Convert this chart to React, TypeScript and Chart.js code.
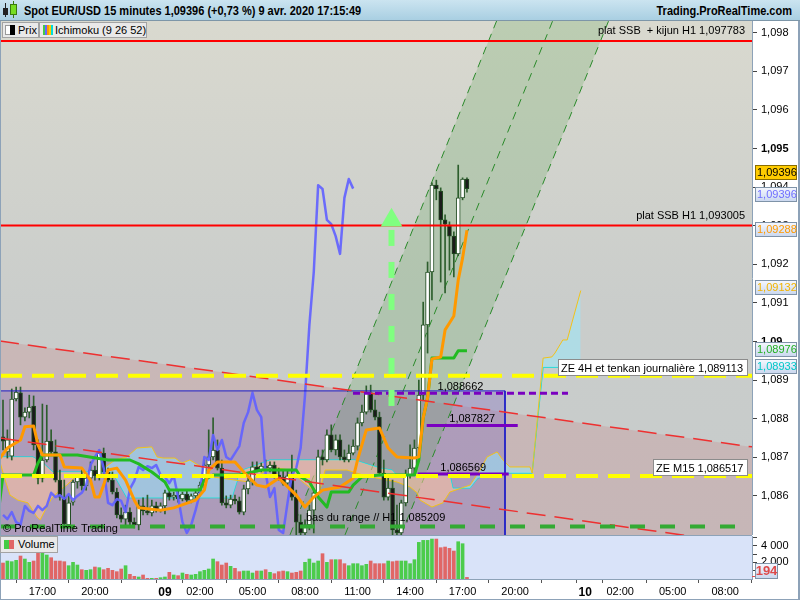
import React, { useEffect, useRef } from 'react';
import { Chart, registerables } from 'chart.js';

Chart.register(...registerables);

const FONT = '"Liberation Sans", Arial, Helvetica, sans-serif';

// ---------- EUR/USD 15 min candles, 8 Apr 14:45 -> 9 Apr 17:15 (bar index 0..106) ----------
const opens = [
  1.08753, 1.08714, 1.08703, 1.08851, 1.08867, 1.08804, 1.08817, 1.08833, 1.08732, 1.08646,
  1.08693, 1.08742, 1.08714, 1.08641, 1.08597, 1.08525, 1.08584, 1.08636, 1.08649, 1.08626,
  1.08646, 1.08667, 1.08652, 1.08711, 1.08662, 1.08641, 1.0861, 1.08551, 1.0854, 1.08558,
  1.08532, 1.08525, 1.08574, 1.08561, 1.08556, 1.08574, 1.08563, 1.08574, 1.08608, 1.08597,
  1.08602, 1.08592, 1.08605, 1.08589, 1.086, 1.08608, 1.08628, 1.0868, 1.08701, 1.08719,
  1.08672, 1.08582, 1.08576, 1.08592, 1.08587, 1.08558, 1.08618, 1.08639, 1.08675, 1.08667,
  1.08677, 1.08672, 1.0868, 1.08654, 1.08649, 1.08633, 1.08652, 1.08597, 1.08532, 1.08504,
  1.08525, 1.08563, 1.08608, 1.08701, 1.08693, 1.08758, 1.08719, 1.08745, 1.08701, 1.08693,
  1.08711, 1.08729, 1.08789, 1.08817, 1.08867, 1.08823, 1.08804, 1.08659, 1.08597, 1.0862,
  1.08512, 1.08504, 1.08582, 1.08654, 1.08672, 1.08724, 1.08861, 1.09043, 1.0918, 1.09405,
  1.0939, 1.09315, 1.09299, 1.09273, 1.09227, 1.09372, 1.09421,
];
const highs = [
  1.08848, 1.08771, 1.08877, 1.08882, 1.08882, 1.08828, 1.08861, 1.08859, 1.08745, 1.08838,
  1.08835, 1.08771, 1.08745, 1.08667, 1.08641, 1.08602, 1.08641, 1.08654, 1.08667, 1.08657,
  1.08688, 1.08677, 1.08719, 1.08724, 1.08672, 1.08662, 1.0862, 1.08569, 1.08576, 1.08569,
  1.08543, 1.08589, 1.08595, 1.08602, 1.08589, 1.08584, 1.08582, 1.08615, 1.08618, 1.0861,
  1.08615, 1.0861, 1.08612, 1.08605, 1.08615, 1.08636, 1.08693, 1.08771, 1.08802, 1.08745,
  1.08693, 1.086, 1.08602, 1.08602, 1.08597, 1.08628, 1.08646, 1.08688, 1.08688, 1.08685,
  1.08693, 1.08688, 1.08688, 1.08672, 1.08667, 1.08667, 1.08706, 1.08615, 1.08551, 1.08538,
  1.08576, 1.08615, 1.08719, 1.08719, 1.08771, 1.08784, 1.08758, 1.08758, 1.08719, 1.08732,
  1.08745, 1.08802, 1.08835, 1.08885, 1.08887, 1.08848, 1.08817, 1.08693, 1.08654, 1.08641,
  1.08576, 1.08589, 1.08667, 1.08732, 1.08745, 1.089, 1.09102, 1.09206, 1.09411, 1.09418,
  1.09398, 1.09328, 1.0931, 1.09284, 1.09457, 1.09424, 1.09424,
];
const lows = [
  1.08719, 1.08698, 1.08693, 1.08846, 1.08784, 1.08794, 1.08802, 1.08719, 1.08631, 1.08636,
  1.08688, 1.08706, 1.08636, 1.08589, 1.08519, 1.08517, 1.08576, 1.0862, 1.08615, 1.08615,
  1.08636, 1.08641, 1.08641, 1.08654, 1.08636, 1.08605, 1.08543, 1.08532, 1.08522, 1.08525,
  1.08517, 1.08512, 1.08551, 1.08551, 1.08548, 1.08558, 1.08558, 1.08553, 1.08589, 1.08589,
  1.08584, 1.08587, 1.08584, 1.08582, 1.08589, 1.086, 1.0862, 1.08672, 1.08693, 1.08667,
  1.08576, 1.08569, 1.08569, 1.08579, 1.08553, 1.08551, 1.08605, 1.08628, 1.08662, 1.08662,
  1.08667, 1.08662, 1.08646, 1.08641, 1.08628, 1.08626, 1.08589, 1.08492, 1.08492, 1.08499,
  1.08512, 1.08504, 1.086, 1.0868, 1.08688, 1.08714, 1.08706, 1.08693, 1.08688, 1.08688,
  1.08706, 1.08719, 1.08781, 1.08812, 1.08817, 1.08797, 1.08652, 1.08589, 1.08589, 1.08492,
  1.08492, 1.08495, 1.08574, 1.08646, 1.08654, 1.08719, 1.08848, 1.0897, 1.09108, 1.09367,
  1.09154, 1.09126, 1.09185, 1.09167, 1.09222, 1.09367, 1.09387,
];
const closes = [
  1.08742, 1.08745, 1.08851, 1.08869, 1.08804, 1.08817, 1.0883, 1.08732, 1.08646, 1.08693,
  1.08742, 1.08714, 1.08641, 1.08597, 1.08527, 1.08582, 1.08636, 1.08649, 1.08626, 1.08646,
  1.08667, 1.08652, 1.08711, 1.08662, 1.08641, 1.0861, 1.08551, 1.0854, 1.08558, 1.08532,
  1.08525, 1.08574, 1.08561, 1.08556, 1.08574, 1.08563, 1.08574, 1.08608, 1.08597, 1.08602,
  1.08592, 1.08605, 1.08589, 1.086, 1.08608, 1.08628, 1.0868, 1.08701, 1.08719, 1.08672,
  1.08582, 1.08576, 1.08592, 1.08587, 1.08558, 1.08618, 1.08639, 1.08675, 1.08667, 1.08677,
  1.08672, 1.0868, 1.08654, 1.08649, 1.08633, 1.08652, 1.08597, 1.08532, 1.08504, 1.08525,
  1.08563, 1.08608, 1.08701, 1.08693, 1.08758, 1.08719, 1.08745, 1.08701, 1.08693, 1.08711,
  1.08729, 1.08789, 1.08817, 1.08867, 1.08823, 1.08804, 1.08659, 1.08597, 1.0862, 1.08512,
  1.08504, 1.08582, 1.08654, 1.08672, 1.08724, 1.08861, 1.09043, 1.0918, 1.09405, 1.09395,
  1.09315, 1.09304, 1.09273, 1.09227, 1.09372, 1.09421, 1.09396,
];
const volumes = [
  1920, 2160, 2080, 2240, 2760, 2400, 2000, 2160, 3200, 3320,
  2880, 2560, 2160, 2160, 2080, 1600, 2000, 1680, 1120, 1040,
  1120, 1440, 1360, 1120, 1280, 1040, 880, 1200, 1600, 560,
  320, 240, 480, 80, 80, 80, 160, 240, 800, 480,
  400, 720, 560, 480, 560, 880, 1040, 1200, 2400, 2080,
  1680, 1920, 1520, 1280, 880, 960, 960, 720, 960, 960,
  1120, 800, 640, 880, 960, 880, 720, 800, 960, 2000,
  2400, 1920, 2160, 3040, 2000, 2320, 2320, 2320, 1840, 1600,
  1840, 1840, 1600, 1760, 2160, 1840, 1840, 1840, 2160, 2080,
  2160, 2160, 2160, 1840, 2320, 4400, 4640, 4640, 4800, 4800,
  3760, 3840, 3680, 3360, 4480, 4240, 194,
];

// ---------- Ichimoku (9 26 52): bar index / price ----------
const tenkanX = [-1, 1, 4, 5, 7, 8, 9, 13, 14, 18, 20, 21, 22, 23, 24, 26, 28, 30, 31, 36, 39, 44, 46, 47, 49, 53, 55, 58, 60, 63, 67, 69, 71, 73, 77, 80, 81, 83, 86, 88, 90, 94, 95, 96, 97, 98, 100, 101, 102, 103, 104, 105, 106];
const tenkanY = [1.08693, 1.08724, 1.08745, 1.08779, 1.08781, 1.08732, 1.08706, 1.08706, 1.08675, 1.08672, 1.08641, 1.08597, 1.08597, 1.08628, 1.08667, 1.08672, 1.08641, 1.08589, 1.08569, 1.08563, 1.08569, 1.08589, 1.08615, 1.08667, 1.08688, 1.08688, 1.08662, 1.08628, 1.08623, 1.08646, 1.08602, 1.08571, 1.08597, 1.08615, 1.08623, 1.08646, 1.08693, 1.08771, 1.08776, 1.08724, 1.08701, 1.08698, 1.08701, 1.08802, 1.08854, 1.08955, 1.0896, 1.0903, 1.09048, 1.09066, 1.09159, 1.09216, 1.09288];
const kijunX = [-1, 0, 7, 8, 9, 17, 24, 29, 31, 34, 37, 38, 45, 46, 48, 54, 59, 67, 68, 70, 72, 74, 75, 79, 80, 82, 86, 94, 95, 96, 97, 98, 103, 104, 106];
const kijunY = [1.08563, 1.08654, 1.08654, 1.08685, 1.08706, 1.08706, 1.08693, 1.08693, 1.08683, 1.08662, 1.08636, 1.08615, 1.08615, 1.08641, 1.08654, 1.08654, 1.08667, 1.08667, 1.08649, 1.08636, 1.08597, 1.08571, 1.0861, 1.0861, 1.08628, 1.08649, 1.08654, 1.08654, 1.08693, 1.08802, 1.08854, 1.08957, 1.08957, 1.08976, 1.08976];
const ssaX = [-0.7, 0.5, 1.6, 3.4, 5.7, 7.8, 8.5, 10, 11.2, 13, 14.6, 16.9, 21.5, 25.6, 28.3, 30.6, 34, 35.2, 36.6, 39.3, 40.9, 42.7, 45, 46.6, 48, 53, 56.4, 61, 65.6, 68.5, 71.7, 72.4, 73.6, 78.6, 82.3, 85.5, 90, 93, 94.6, 95.3, 98, 100.5, 102.1, 106.7, 109, 110.6, 112.9, 114.2, 115.8, 120.4, 120.9, 123.4, 125.4, 126.1, 127.9, 128.9, 132];
const ssaY = [1.08688, 1.08641, 1.08602, 1.08589, 1.08582, 1.08545, 1.08538, 1.08571, 1.08595, 1.08615, 1.08628, 1.08654, 1.08659, 1.08693, 1.08701, 1.08724, 1.08727, 1.08701, 1.08698, 1.08698, 1.08685, 1.08693, 1.08677, 1.08665, 1.08649, 1.08641, 1.08636, 1.08675, 1.08667, 1.08636, 1.08608, 1.08615, 1.08667, 1.08667, 1.08654, 1.08646, 1.08636, 1.08623, 1.08608, 1.08589, 1.08571, 1.08582, 1.0861, 1.08628, 1.08667, 1.08701, 1.08714, 1.08693, 1.08675, 1.08675, 1.08659, 1.08957, 1.0896, 1.0897, 1.09004, 1.09004, 1.09132];
const ssbX = [-0.7, 6.85, 8.9, 11.4, 24.5, 25.6, 28.3, 52.3, 53.7, 54.8, 61, 80.4, 86.1, 88.9, 90, 102.1, 102.8, 106.7, 108.5, 113.6, 120.9, 123.4, 132];
const ssbY = [1.08701, 1.08701, 1.08688, 1.08662, 1.08662, 1.08649, 1.08595, 1.08595, 1.08646, 1.08667, 1.08693, 1.08693, 1.08672, 1.08667, 1.08654, 1.08654, 1.0862, 1.0862, 1.08646, 1.08659, 1.08659, 1.08933, 1.08933];

// ---------- drawn objects ----------
const redLevels = [1.097783, 1.093005];
const redLevelLabels = ['plat SSB  + kijun H1 1,097783', 'plat SSB H1 1,093005'];
const yellowLevels = [1.089113, 1.086517];
const yellowLevelLabels = ['ZE 4H et tenkan journalière 1,089113', 'ZE M15 1,086517'];
const rangeLow = 1.085209;
const rangeLowLabel = 'bas du range // H1 1,085209';
const rangeLowEnd = 168.4;
const rangeLabelBar = 69.2;
const purpleLevels = [1.088662, 1.087827, 1.086569];
const purpleFrom = [79.96, 96.8, 94.75];
const purpleTo = [129.08, 117.6, 115.54];
const purpleDashed = [true, false, false];
const redTrendX = [-0.685, 171.12];
const redUpperY = [1.09001, 1.08727];
const redLowerY = [1.0875, 1.08473];
const rangeBoxTop = 1.08872;
const rangeBoxEnd = 114.69;
const channelBottomX = [65.57, 78.14, 90.93];
const channelTopX = [112.86, 125.66, 138.45];
const channelBottomY = 1.08499;
const channelTopY = 1.09833;
const arrowBar = 88.76;
const arrowFrom = 1.0883;
const arrowTo = 1.09289;
const arrowHead = 1.09314;

// ---------- axes ----------
const X_MIN = -0.685;
const X_MAX = 171.12;
const Y_MIN = 1.084987;
const Y_MAX = 1.098303;
const V_MAX = 5165;
const priceTicks = [1.086, 1.087, 1.088, 1.089, 1.09, 1.091, 1.092, 1.093, 1.094, 1.095, 1.096, 1.097, 1.098];
const priceTickLabels = ['1,086', '1,087', '1,088', '1,089', '1,09', '1,091', '1,092', '1,093', '1,094', '1,095', '1,096', '1,097', '1,098'];
const boldPriceLabels = ['1,09', '1,095'];
const xTicks = [9, 21, 33, 37, 45, 57, 69, 81, 93, 105, 117, 129, 133, 141, 153, 165];
const xTickLabels = ['17:00', '20:00', '', '09', '02:00', '05:00', '08:00', '11:00', '14:00', '17:00', '20:00', '', '10', '02:00', '05:00', '08:00'];
const dayLabels = ['09', '10'];
const volTicks = [1000, 2000, 3000, 4000, 5000];
const volTickLabels = ['', '2 000', '', '4 000', ''];

// right-axis value tags
const tagValues = [1.09396, 1.09396, 1.09288, 1.09132, 1.08976, 1.08933];
const tagColors = ['#000000', '#6f6fff', '#ff9900', '#f2b400', '#22b022', '#00c8c8'];
const tagSolid = ['#ffcc00', '', '', '', '', ''];
const tagShift = [-16, 6, -1, -3, -1, -1];
const lastVolume = 194;

const fmt = (v: number, d: number) => v.toFixed(d).replace('.', ',');

function mainConfig(): any {
  const idx = opens.map((_, i) => i);
  const up = idx.map((i) => closes[i] >= opens[i]);
  const P = (x: number, y: number) => ({ x, y });
  const zip = (xs: number[], ys: number[]) => xs.map((x, k) => P(x, ys[k]));
  const line = (data: any[], color: string, width: number, dash: number[], order: number, extra: any = {}) => ({
    type: 'line', data, borderColor: color, borderWidth: width, borderDash: dash,
    pointRadius: 0, fill: false, order, borderJoinStyle: 'round', ...extra,
  });
  const ds: any[] = [];
  // background regions
  ds.push(line(zip(redTrendX, redUpperY), 'transparent', 1, [], 20, { fill: 'start', backgroundColor: 'rgba(200,118,120,0.24)' }));
  ds.push(line([P(X_MIN, rangeBoxTop), P(rangeBoxEnd, rangeBoxTop)], 'transparent', 1, [], 19, { fill: 'start', backgroundColor: 'rgba(128,108,190,0.36)' }));
  ds.push(line([P(channelBottomX[0], channelBottomY), P(channelTopX[0], channelTopY), P(channelTopX[2], channelTopY), P(channelBottomX[2], channelBottomY)],
    'transparent', 1, [], 18, { fill: 'shape', backgroundColor: 'rgba(105,170,95,0.26)' }));
  for (let k = 0; k < 3; k++) {
    ds.push(line([P(channelBottomX[k], channelBottomY), P(channelTopX[k], channelTopY)], '#2a8a2a', 1, [8, 6], 17));
  }
  // Kumo
  const ssaIndex = ds.length;
  ds.push(line(zip(ssaX, ssaY), '#f2c21a', 1, [], 16, {
    fill: { target: ssaIndex + 1, above: 'rgba(150,235,255,0.5)', below: 'rgba(255,196,160,0.55)' },
  }));
  ds.push(line(zip(ssbX, ssbY), '#00e0e0', 1, [], 16));
  // candles
  ds.push({ type: 'bar', data: idx.map((i) => ({ x: i, y: [lows[i], highs[i]] })), backgroundColor: '#2d5e2d', barThickness: 1, grouped: false, order: 12 });
  ds.push({ type: 'bar', data: idx.map((i) => ({ x: i, y: [opens[i], closes[i]] })), backgroundColor: idx.map((i) => (up[i] ? '#ffffff' : '#1b1b1b')),
    borderColor: '#214c21', borderWidth: 1, borderSkipped: false, barThickness: 4, grouped: false, order: 11 });
  // Ichimoku lines
  ds.push(line(idx.slice(0, closes.length - 26).map((i) => P(i, closes[i + 26])), 'rgba(98,98,255,0.92)', 2.5, [], 8));
  ds.push(line(zip(kijunX, kijunY), '#22bb22', 3, [], 7));
  ds.push(line(zip(tenkanX, tenkanY), '#ff9900', 3, [], 6));
  // drawn objects
  ds.push(line(zip(redTrendX, redUpperY), '#ee3030', 1.5, [19, 9], 5));
  ds.push(line(zip(redTrendX, redLowerY), '#ee3030', 1.5, [19, 9], 5));
  ds.push(line([P(X_MIN, rangeBoxTop), P(rangeBoxEnd, rangeBoxTop), P(rangeBoxEnd, Y_MIN - 0.001)], '#1a1ac8', 1, [], 5));
  redLevels.forEach((p) => ds.push(line([P(X_MIN, p), P(X_MAX, p)], '#ff0000', 2, [], 4)));
  yellowLevels.forEach((p) => ds.push(line([P(X_MIN, p), P(X_MAX, p)], '#ffff00', 4, [22, 10], 3)));
  ds.push(line([P(X_MIN, rangeLow), P(rangeLowEnd, rangeLow)], '#33aa33', 4, [15, 15], 3));
  purpleLevels.forEach((p, k) => ds.push(line([P(purpleFrom[k], p), P(purpleTo[k], p)], '#7a00c0', 3, purpleDashed[k] ? [7, 4] : [], 3)));
  ds.push(line([P(arrowBar, arrowTo), P(arrowBar, arrowFrom)], '#80ff80', 6, [16, 16], 1, { borderCapStyle: 'butt' }));
  ds.push({ type: 'line', data: [P(arrowBar, arrowHead)], showLine: false, pointStyle: 'triangle', pointRadius: 12.5,
    pointBackgroundColor: '#80ff80', pointBorderWidth: 0, pointBorderColor: '#80ff80', order: 0 });

  const overlay = {
    id: 'mainOverlay',
    beforeDraw(chart: any) {
      const { ctx, chartArea: a, width, height } = chart;
      ctx.save();
      ctx.fillStyle = '#ffffff';
      ctx.fillRect(0, 0, width, height);
      const g = ctx.createLinearGradient(0, a.top, 0, a.bottom);
      g.addColorStop(0, '#d9d9cf');
      g.addColorStop(0.55, '#cacdcb');
      g.addColorStop(1, '#c6cbcb');
      ctx.fillStyle = g;
      ctx.fillRect(a.left, a.top, a.right - a.left, a.bottom - a.top);
      ctx.restore();
    },
    afterDraw(chart: any) {
      const { ctx, chartArea: a, scales } = chart;
      const xs = scales.x;
      const ys = scales.y;
      ctx.save();
      ctx.font = `11px ${FONT}`;
      ctx.fillStyle = '#000';
      ctx.textBaseline = 'alphabetic';
      ctx.textAlign = 'right';
      redLevels.forEach((p, k) => ctx.fillText(redLevelLabels[k], a.right - 7, ys.getPixelForValue(p) - 7));
      ctx.textAlign = 'left';
      ctx.fillText(rangeLowLabel, xs.getPixelForValue(rangeLabelBar), ys.getPixelForValue(rangeLow) - 5);
      ctx.textAlign = 'center';
      purpleLevels.forEach((p, k) => {
        const cx = (xs.getPixelForValue(purpleFrom[k]) + xs.getPixelForValue(purpleTo[k])) / 2;
        ctx.fillText(fmt(p, 6), cx, ys.getPixelForValue(p) - 3);
      });
      yellowLevels.forEach((p, k) => {
        const py = Math.round(ys.getPixelForValue(p));
        const w = Math.ceil(ctx.measureText(yellowLevelLabels[k]).width) + 7;
        const bx = a.right - 4 - w;
        ctx.fillStyle = '#ffffff';
        ctx.fillRect(bx, py - 17, w, 17);
        ctx.strokeStyle = '#8c8c8c';
        ctx.lineWidth = 1;
        ctx.strokeRect(bx + 0.5, py - 16.5, w - 1, 16);
        ctx.fillStyle = '#000';
        ctx.textAlign = 'left';
        ctx.fillText(yellowLevelLabels[k], bx + 3, py - 4);
      });
      ctx.textAlign = 'left';
      ctx.fillStyle = '#000';
      ctx.fillText('© ProRealTime Trading', 3, a.bottom - 3);
      // axis tags
      tagValues.forEach((v, k) => {
        const yc = ys.getPixelForValue(v) + tagShift[k];
        const top = Math.round(yc - 7.5);
        const left = 755;
        const w = 42;
        const h = 15;
        if (tagSolid[k]) {
          ctx.fillStyle = tagSolid[k];
        } else {
          const g = ctx.createLinearGradient(0, top, 0, top + h);
          g.addColorStop(0, '#f7f9ff');
          g.addColorStop(1, '#c8d6ee');
          ctx.fillStyle = g;
        }
        ctx.fillRect(left, top, w, h);
        ctx.strokeStyle = tagSolid[k] ? '#8a6d00' : '#7f93a8';
        ctx.lineWidth = 1;
        ctx.strokeRect(left + 0.5, top + 0.5, w - 1, h - 1);
        ctx.fillStyle = tagColors[k];
        ctx.font = `11px ${FONT}`;
        ctx.textAlign = 'left';
        ctx.textBaseline = 'middle';
        ctx.fillText(fmt(v, 5), left + 2, top + h / 2 + 0.5);
      });
      // frame
      ctx.fillStyle = '#8da2b8';
      ctx.fillRect(0, 0, 1, chart.height);
      ctx.fillRect(798, 0, 2, chart.height);
      ctx.restore();
    },
  };

  return {
    type: 'bar',
    data: { datasets: ds },
    options: {
      animation: false,
      responsive: false,
      devicePixelRatio: 1,
      events: [],
      layout: { padding: 0, autoPadding: false },
      plugins: { legend: { display: false }, tooltip: { enabled: false } },
      scales: {
        x: { type: 'linear', min: X_MIN, max: X_MAX, display: false, offset: false },
        y: {
          type: 'linear', position: 'right', min: Y_MIN, max: Y_MAX,
          afterBuildTicks: (s: any) => { s.ticks = priceTicks.map((v) => ({ value: v })); },
          afterFit: (s: any) => { s.width = 48; s.paddingTop = 0; s.paddingBottom = 0; },
          grid: { drawOnChartArea: false, drawTicks: true, tickLength: 5, color: '#444' },
          border: { display: true, color: '#8da2b8', width: 1 },
          ticks: {
            autoSkip: false, padding: 4, color: '#000',
            font: (c: any) => ({ family: FONT, size: 11, weight: boldPriceLabels.includes(priceTickLabels[c.index]) ? 'bold' : 'normal' }),
            callback: (_v: any, i: number) => priceTickLabels[i],
          },
        },
      },
    },
    plugins: [overlay],
  };
}

function volConfig(): any {
  const idx = volumes.map((_, i) => i);
  const overlay = {
    id: 'volOverlay',
    beforeDraw(chart: any) {
      const { ctx, chartArea: a, width, height } = chart;
      ctx.save();
      ctx.fillStyle = '#ffffff';
      ctx.fillRect(0, 0, width, height);
      ctx.fillStyle = '#d9e3f9';
      ctx.fillRect(a.left, a.top, a.right - a.left, a.bottom - a.top);
      ctx.fillStyle = '#8da2b8';
      ctx.fillRect(0, 0, a.right, 1);
      ctx.restore();
    },
    afterDraw(chart: any) {
      const { ctx, chartArea: a, scales } = chart;
      const ys = scales.y;
      ctx.save();
      const py = ys.getPixelForValue(lastVolume);
      ctx.fillStyle = '#e05050';
      ctx.fillRect(752, Math.round(py) - 1, 5, 1);
      const top = Math.round(a.bottom - 16);
      const g = ctx.createLinearGradient(0, top, 0, top + 16);
      g.addColorStop(0, '#f7f9ff');
      g.addColorStop(1, '#c8d6ee');
      ctx.fillStyle = g;
      ctx.fillRect(755, top, 23, 16);
      ctx.strokeStyle = '#7f93a8';
      ctx.lineWidth = 1;
      ctx.strokeRect(755.5, top + 0.5, 22, 15);
      ctx.fillStyle = '#dd4a4a';
      ctx.font = `bold 13px ${FONT}`;
      ctx.textAlign = 'center';
      ctx.textBaseline = 'middle';
      ctx.fillText(String(lastVolume), 766.5, top + 8.5);
      ctx.fillStyle = '#8da2b8';
      ctx.fillRect(0, 0, 1, chart.height);
      ctx.fillRect(798, 0, 2, chart.height);
      ctx.fillRect(0, chart.height - 1, 800, 1);
      ctx.restore();
    },
  };
  return {
    type: 'bar',
    data: {
      datasets: [{
        type: 'bar',
        data: idx.map((i) => ({ x: i, y: volumes[i] })),
        backgroundColor: idx.map((i) => (closes[i] >= opens[i] ? '#4ccc4c' : '#e06666')),
        barThickness: 3, grouped: false,
      }],
    },
    options: {
      animation: false,
      responsive: false,
      devicePixelRatio: 1,
      events: [],
      layout: { padding: { top: 1, left: 0, right: 0, bottom: 0 }, autoPadding: false },
      plugins: { legend: { display: false }, tooltip: { enabled: false } },
      scales: {
        x: {
          type: 'linear', min: X_MIN, max: X_MAX, offset: false,
          afterBuildTicks: (s: any) => { s.ticks = xTicks.map((v) => ({ value: v })); },
          afterFit: (s: any) => { s.height = 21; s.paddingLeft = 0; s.paddingRight = 0; },
          grid: { drawOnChartArea: false, drawTicks: true, tickLength: 4, color: '#555' },
          border: { display: true, color: '#8da2b8' },
          ticks: {
            autoSkip: false, maxRotation: 0, minRotation: 0, padding: 2, color: '#000',
            font: (c: any) => {
              const bold = dayLabels.includes(xTickLabels[c.index]);
              return { family: FONT, size: bold ? 12 : 11, weight: bold ? 'bold' : 'normal' };
            },
            callback: (_v: any, i: number) => xTickLabels[i],
          },
        },
        y: {
          type: 'linear', position: 'right', min: 0, max: V_MAX,
          afterBuildTicks: (s: any) => { s.ticks = volTicks.map((v) => ({ value: v })); },
          afterFit: (s: any) => { s.width = 48; s.paddingTop = 0; s.paddingBottom = 0; },
          grid: { drawOnChartArea: false, drawTicks: true, tickLength: 5, color: '#444' },
          border: { display: true, color: '#8da2b8' },
          ticks: { autoSkip: false, padding: 4, color: '#000', font: { family: FONT, size: 11 }, callback: (_v: any, i: number) => volTickLabels[i] },
        },
      },
    },
    plugins: [overlay],
  };
}

const boxStyle: React.CSSProperties = {
  position: 'absolute', height: 16, boxSizing: 'border-box', background: '#e9e9e9',
  border: '1px solid #a3a3a3', fontSize: 11, lineHeight: '14px', color: '#000', whiteSpace: 'nowrap',
};

export default function App() {
  const mainRef = useRef<HTMLCanvasElement>(null);
  const volRef = useRef<HTMLCanvasElement>(null);
  useEffect(() => {
    const m = new Chart(mainRef.current as HTMLCanvasElement, mainConfig());
    const v = new Chart(volRef.current as HTMLCanvasElement, volConfig());
    return () => { m.destroy(); v.destroy(); };
  }, []);
  return (
    <div style={{ position: 'absolute', left: 0, top: 0, width: 800, height: 600, overflow: 'hidden', background: '#fff', fontFamily: FONT }}>
      <div style={{ position: 'absolute', left: 0, top: 0, width: 800, height: 20, background: 'linear-gradient(#cbe4f0, #a9cfe2)', borderBottom: '1px solid #7d96a8' }}>
        <div style={{ position: 'absolute', left: 5, top: 3, width: 1, height: 14, background: '#222' }} />
        <div style={{ position: 'absolute', left: 3, top: 8, width: 5, height: 7, background: '#222' }} />
        <div style={{ position: 'absolute', left: 13, top: 1, width: 1, height: 17, background: '#3a7a10' }} />
        <div style={{ position: 'absolute', left: 10, top: 4, width: 7, height: 11, background: '#77dd22', border: '1px solid #3a7a10', boxSizing: 'border-box' }} />
        <span style={{ position: 'absolute', left: 24, top: 4, fontSize: 11, lineHeight: '14px', fontWeight: 'bold', whiteSpace: 'nowrap', transform: 'scaleY(1.12)', transformOrigin: 'left center' }}>
          Spot EUR/USD 15 minutes 1,09396 (+0,73 %) 9 avr. 2020 17:15:49
        </span>
        <span style={{ position: 'absolute', right: 8, top: 4, fontSize: 11, lineHeight: '14px', fontWeight: 'bold', whiteSpace: 'nowrap', transform: 'scaleY(1.12)', transformOrigin: 'right center' }}>
          Trading.ProRealTime.com
        </span>
      </div>
      <canvas ref={mainRef} width={800} height={514} style={{ position: 'absolute', left: 0, top: 21, display: 'block' }} />
      <canvas ref={volRef} width={800} height={65} style={{ position: 'absolute', left: 0, top: 535, display: 'block' }} />
      <div style={{ ...boxStyle, left: 2, top: 22, width: 37 }}>
        <div style={{ position: 'absolute', left: 2, top: 2, width: 10, height: 10, background: '#fff', border: '1px solid #999', boxSizing: 'border-box' }} />
        <div style={{ position: 'absolute', left: 7, top: 2, width: 5, height: 10, background: '#000' }} />
        <span style={{ position: 'absolute', left: 15, top: 0 }}>Prix</span>
      </div>
      <div style={{ ...boxStyle, left: 39, top: 22, width: 108 }}>
        {['#44cc44', '#6666ff', '#ff9900', '#ffcc00', '#00dddd'].map((c, k) => (
          <div key={k} style={{ position: 'absolute', left: 3 + k * 2, top: 2, width: 2, height: 10, background: c }} />
        ))}
        <span style={{ position: 'absolute', left: 15, top: 0 }}>Ichimoku (9 26 52)</span>
      </div>
      <div style={{ ...boxStyle, left: 0, top: 536, width: 58, height: 17, lineHeight: '15px' }}>
        <div style={{ position: 'absolute', left: 3, top: 3, width: 5, height: 9, background: '#44cc44' }} />
        <div style={{ position: 'absolute', left: 8, top: 3, width: 5, height: 9, background: '#e06666' }} />
        <span style={{ position: 'absolute', left: 17, top: 0 }}>Volume</span>
      </div>
    </div>
  );
}
